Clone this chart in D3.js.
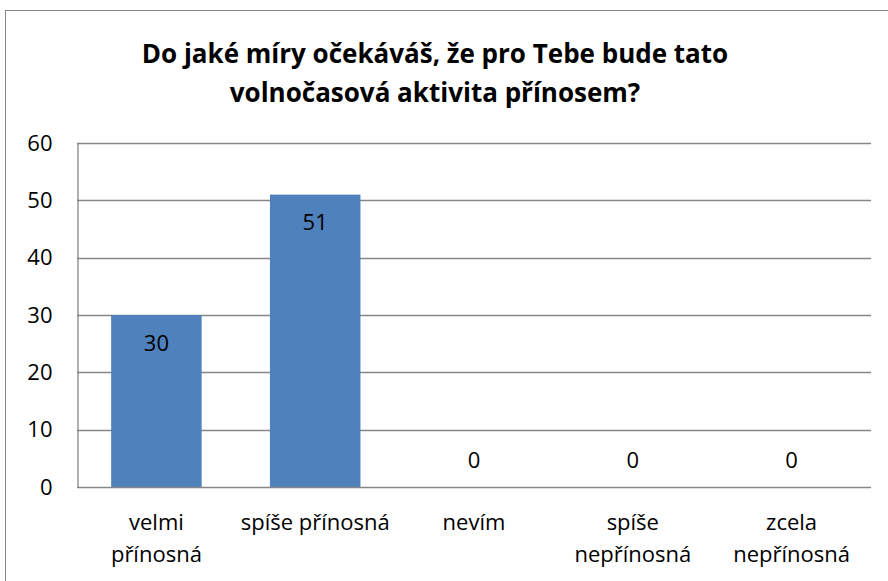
<!DOCTYPE html>
<html>
<head>
<meta charset="utf-8">
<script src="https://cdn.jsdelivr.net/npm/d3@7"></script>
<style>
  html, body { margin: 0; padding: 0; background: #fff; }
  svg { display: block; }
  text { font-family: "Open Sans", Lato, sans-serif; fill: #000; }
</style>
</head>
<body>
<svg id="chart" width="888" height="581"></svg>
<script>
// Survey answers and their counts
const categories = [
  ["velmi", "přínosná"],
  ["spíše přínosná"],
  ["nevím"],
  ["spíše", "nepřínosná"],
  ["zcela", "nepřínosná"]
];
const values = [30, 51, 0, 0, 0];
const yTicks = [0, 10, 20, 30, 40, 50, 60];
const titleLines = [
  "Do jaké míry očekáváš, že pro Tebe bude tato",
  "volnočasová aktivita přínosem?"
];

const svg = d3.select("#chart");
const plot = { left: 77, right: 871, top: 143, bottom: 487 };
const gridColor = "#868686";
const labelSize = 22;

// Chart frame
svg.append("rect")
  .attr("x", 5.5).attr("y", 10.5)
  .attr("width", 900).attr("height", 600)
  .attr("fill", "#fff")
  .attr("stroke", gridColor).attr("stroke-width", 1);

// Title
svg.append("g").selectAll("text")
  .data(titleLines)
  .join("text")
  .attr("x", 435)
  .attr("y", (d, i) => 63 + i * 39)
  .attr("text-anchor", "middle")
  .attr("font-weight", "bold")
  .attr("font-size", 26)
  .text(d => d);

const x = d3.scaleBand()
  .domain(d3.range(categories.length))
  .range([plot.left, plot.right])
  .padding(0);

const y = d3.scaleLinear()
  .domain([0, 60])
  .range([plot.bottom, plot.top]);

// Horizontal gridlines
svg.append("g").selectAll("line")
  .data(yTicks.filter(t => t > 0))
  .join("line")
  .attr("x1", plot.left).attr("x2", plot.right)
  .attr("y1", d => Math.round(y(d)) + 0.5)
  .attr("y2", d => Math.round(y(d)) + 0.5)
  .attr("stroke", gridColor).attr("stroke-width", 1.3);

// Y axis
const yAxis = svg.append("g")
  .attr("transform", `translate(${plot.left + 0.5},0)`)
  .call(d3.axisLeft(y).tickValues(yTicks).tickSize(0).tickPadding(25));
yAxis.select(".domain").attr("stroke", gridColor).attr("stroke-width", 1.3);
yAxis.selectAll("text")
  .attr("font-size", labelSize)
  .attr("font-family", "'Open Sans', sans-serif")
  .attr("fill", "#000");

// Bars
const barW = x.bandwidth() * 0.57;
svg.append("g").selectAll("rect")
  .data(values)
  .join("rect")
  .attr("x", (d, i) => x(i) + (x.bandwidth() - barW) / 2)
  .attr("y", d => y(d))
  .attr("width", barW)
  .attr("height", d => y(0) - y(d))
  .attr("fill", "#4f81bd");

// X axis baseline
svg.append("line")
  .attr("x1", plot.left).attr("x2", plot.right)
  .attr("y1", plot.bottom + 0.5).attr("y2", plot.bottom + 0.5)
  .attr("stroke", gridColor).attr("stroke-width", 1.3);

// Value labels
svg.append("g").selectAll("text")
  .data(values)
  .join("text")
  .attr("x", (d, i) => x(i) + x.bandwidth() / 2)
  .attr("y", d => d > 0 ? y(d) + 28 : y(0) - 27)
  .attr("dy", "0.35em")
  .attr("text-anchor", "middle")
  .attr("font-size", labelSize)
  .text(d => d);

// Category labels
const catG = svg.append("g").selectAll("text")
  .data(categories)
  .join("text")
  .attr("text-anchor", "middle")
  .attr("font-size", labelSize)
  .attr("x", (d, i) => x(i) + x.bandwidth() / 2)
  .attr("y", 530);
catG.selectAll("tspan")
  .data(d => d)
  .join("tspan")
  .attr("x", function () { return d3.select(this.parentNode).attr("x"); })
  .attr("dy", (d, i) => i === 0 ? 0 : 31.5)
  .text(d => d);
</script>
</body>
</html>
